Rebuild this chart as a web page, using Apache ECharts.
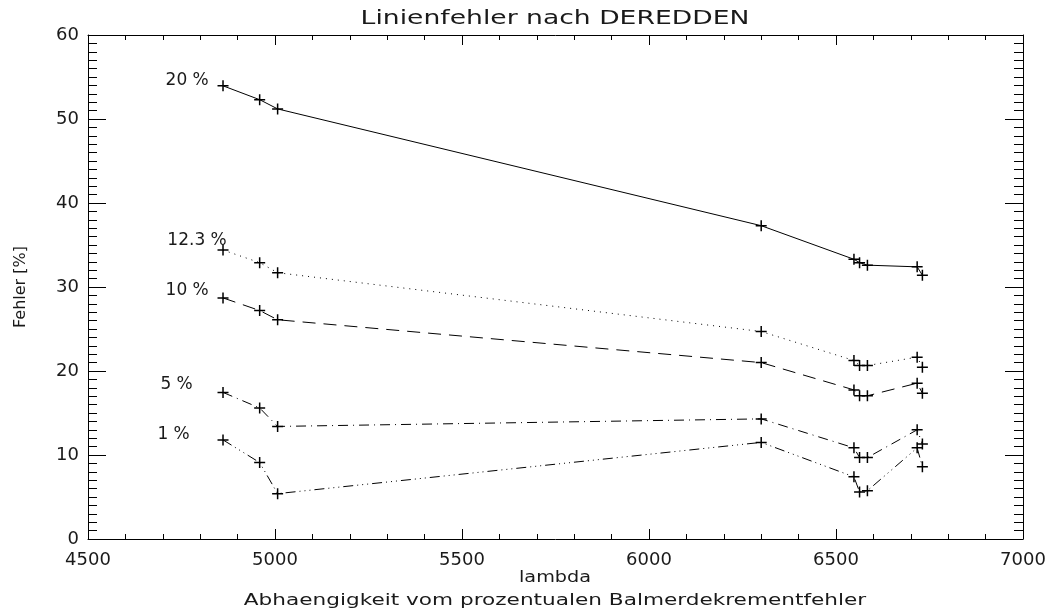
<!DOCTYPE html>
<html>
<head>
<meta charset="utf-8">
<title>Linienfehler nach DEREDDEN</title>
<script src="https://cdn.jsdelivr.net/npm/echarts@6/dist/echarts.min.js"></script>
<style>
  html, body { margin: 0; padding: 0; background: #fff; }
  #chart { width: 1056px; height: 614px; }
</style>
</head>
<body>
<div id="chart"></div>
<script>
// Emission line wavelengths (Angstrom)
const lambdaValues = [4861, 4959, 5007, 6300, 6548, 6563, 6584, 6717, 6731];

// Line error [%] after dereddening, one array per Balmer decrement error
const err20 = [53.95, 52.3, 51.2, 37.3, 33.3, 32.9, 32.6, 32.4, 31.4];
const err12 = [34.4, 32.9, 31.7, 24.7, 21.25, 20.65, 20.65, 21.65, 20.45];
const err10 = [28.7, 27.2, 26.1, 21.0, 17.75, 17.05, 17.05, 18.55, 17.35];
const err5  = [17.45, 15.6, 13.4, 14.3, 10.85, 9.7, 9.7, 13.0, 11.3];
const err1  = [11.8, 9.1, 5.4, 11.5, 7.4, 5.6, 5.75, 10.85, 8.6];

const seriesNames = ['20 %', '12.3 %', '10 %', '5 %', '1 %'];
const seriesValues = [err20, err12, err10, err5, err1];

const xTicks = { min: 4500, max: 7000, step: 500 };
const yTicks = { min: 0, max: 60, step: 10 };

// Styling per curve: dash pattern and label offset
const curveStyles = [
  { dash: 'solid',                       offset: [-8, -5] },
  { dash: [1, 5],                        offset: [10, -9] },
  { dash: [13, 8],                       offset: [-8, -7] },
  { dash: [10, 5, 1, 5],                 offset: [-24, -8] },
  { dash: [10, 4, 1, 4, 1, 4, 1, 4],     offset: [-27, -5] }
];

const FONT = '"DejaVu Sans", "Liberation Sans", sans-serif';
const INK = '#1a1a1a';
const PLUS = 'path://M0,5 L10,5 M5,0 L5,10';

const chart = echarts.init(document.getElementById('chart'), null, { renderer: 'canvas' });

function baseAxis(extra) {
  return Object.assign({
    type: 'value',
    axisLine: { show: true, onZero: false, lineStyle: { color: '#000', width: 1 } },
    splitLine: { show: false }
  }, extra);
}

const plainNumber = v => String(v);
const xAxisCommon = { min: xTicks.min, max: xTicks.max, interval: xTicks.step };
const yAxisCommon = { min: yTicks.min, max: yTicks.max, interval: yTicks.step };

const series = seriesValues.map((vals, i) => ({
  type: 'line',
  name: seriesNames[i],
  data: vals.map((v, k) => {
    const item = { value: [lambdaValues[k], v] };
    if (k === 0) {
      item.label = {
        show: true,
        position: 'left',
        distance: 0,
        offset: curveStyles[i].offset,
        formatter: seriesNames[i],
        color: INK,
        fontFamily: FONT,
        fontSize: 17
      };
    }
    return item;
  }),
  symbol: PLUS,
  symbolSize: 11,
  showAllSymbol: true,
  itemStyle: { color: '#000', borderColor: '#000', borderWidth: 1.5 },
  lineStyle: { color: '#000', width: 1, type: curveStyles[i].dash },
  emphasis: { disabled: true },
  animation: false,
  z: 5
}));

const option = {
  backgroundColor: '#fff',
  animation: false,
  grid: { left: 88, right: 33, top: 35, bottom: 75, containLabel: false },
  xAxis: [
    baseAxis(Object.assign({}, xAxisCommon, {
      position: 'bottom',
      axisTick: { show: true, inside: true, length: 10, lineStyle: { color: '#000' } },
      minorTick: { show: true, splitNumber: 5, length: 5, lineStyle: { color: '#000' } },
      axisLabel: { color: INK, fontFamily: FONT, fontSize: 18, margin: 12, formatter: plainNumber }
    })),
    baseAxis(Object.assign({}, xAxisCommon, {
      position: 'top',
      axisTick: { show: true, inside: true, length: 10, lineStyle: { color: '#000' } },
      minorTick: { show: true, splitNumber: 5, length: 5, lineStyle: { color: '#000' } },
      axisLabel: { show: false }
    }))
  ],
  yAxis: [
    baseAxis(Object.assign({}, yAxisCommon, {
      position: 'left',
      axisTick: { show: true, inside: true, length: 18, lineStyle: { color: '#000' } },
      minorTick: { show: true, splitNumber: 10, length: 9, lineStyle: { color: '#000' } },
      axisLabel: { color: INK, fontFamily: FONT, fontSize: 18, margin: 9, formatter: plainNumber },
      name: 'Fehler [%]',
      nameLocation: 'middle',
      nameGap: 59,
      nameTextStyle: { color: INK, fontFamily: FONT, fontSize: 16 }
    })),
    baseAxis(Object.assign({}, yAxisCommon, {
      position: 'right',
      axisTick: { show: true, inside: true, length: 18, lineStyle: { color: '#000' } },
      minorTick: { show: true, splitNumber: 10, length: 9, lineStyle: { color: '#000' } },
      axisLabel: { show: false }
    }))
  ],
  graphic: [
    {
      type: 'text', x: 555, y: 19, scaleX: 1.4, silent: true,
      style: {
        text: 'Linienfehler nach DEREDDEN', fill: INK,
        font: '19px ' + FONT, align: 'center', verticalAlign: 'middle'
      }
    },
    {
      type: 'text', x: 555, y: 578, scaleX: 1.2, silent: true,
      style: {
        text: 'lambda', fill: INK,
        font: '16px ' + FONT, align: 'center', verticalAlign: 'middle'
      }
    },
    {
      type: 'text', x: 555, y: 601, scaleX: 1.35, silent: true,
      style: {
        text: 'Abhaengigkeit vom prozentualen Balmerdekrementfehler', fill: INK,
        font: '16px ' + FONT, align: 'center', verticalAlign: 'middle'
      }
    }
  ],
  series: series
};

chart.setOption(option);
</script>
</body>
</html>
